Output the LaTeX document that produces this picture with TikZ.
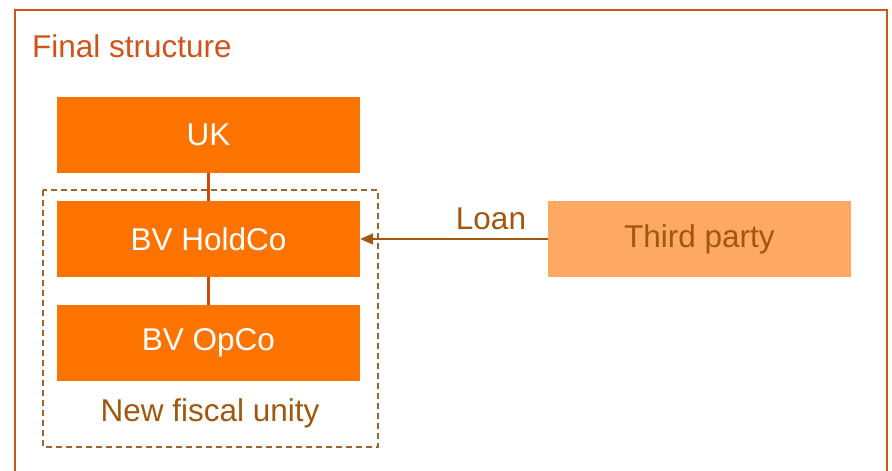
\documentclass[tikz,border=0pt]{standalone}
\usepackage{fontspec}
\setmainfont{Liberation Sans}
\usetikzlibrary{arrows.meta}
\definecolor{orfill}{HTML}{FD7300}
\definecolor{tpfill}{HTML}{FDA964}
\definecolor{brn}{HTML}{A0570F}
\definecolor{frm}{HTML}{D0541A}
\definecolor{conn}{HTML}{D04A02}
\definecolor{dsh}{HTML}{A0642A}
\tikzset{
  ent/.style={fill=orfill, draw=none, minimum width=303pt, minimum height=76pt, inner sep=0pt, text=white, font=\fontsize{31.5}{36}\selectfont},
  third/.style={ent, fill=tpfill, text=brn},
  lbl/.style={text=brn, font=\fontsize{31.5}{36}\selectfont, inner sep=0pt},
  link/.style={draw=conn, line width=3pt},
}
\begin{document}
\begin{tikzpicture}[x=1pt,y=-1pt]
\useasboundingbox (0,0) rectangle (892,471);
\begin{scope}
\clip (0,0) rectangle (892,471);
\draw[frm, line width=1.6pt] (15,10) rectangle (887,490);
\end{scope}
\node[anchor=base west, text=frm, font=\fontsize{31.5}{36}\selectfont, inner sep=0pt] (title) at (32,57) {Final structure};
\node[ent] (uk) at (208.5,135) {UK};
\node[ent] (hold) at (208.5,239) {BV HoldCo};
\node[ent] (op) at (208.5,343) {BV OpCo};
\node[third] (tp) at (699.5,239) {Third party};
\coordinate (fu1) at (43,190);
\coordinate (fu2) at (378,447);
\draw[dsh, line width=1.5pt, dash pattern=on 6pt off 4pt] (fu1) rectangle (fu2);
\node[lbl] (fiscal) at (210,413) {New fiscal unity};
\draw[link] (uk.south) -- (hold.north);
\draw[link] (hold.south) -- (op.north);
\draw[brn, line width=1.5pt, -{Triangle[length=13pt,width=11pt]}] (tp.west) -- (hold.east);
\node[lbl] (loan) at (491,219) {Loan};
\end{tikzpicture}
\end{document}
